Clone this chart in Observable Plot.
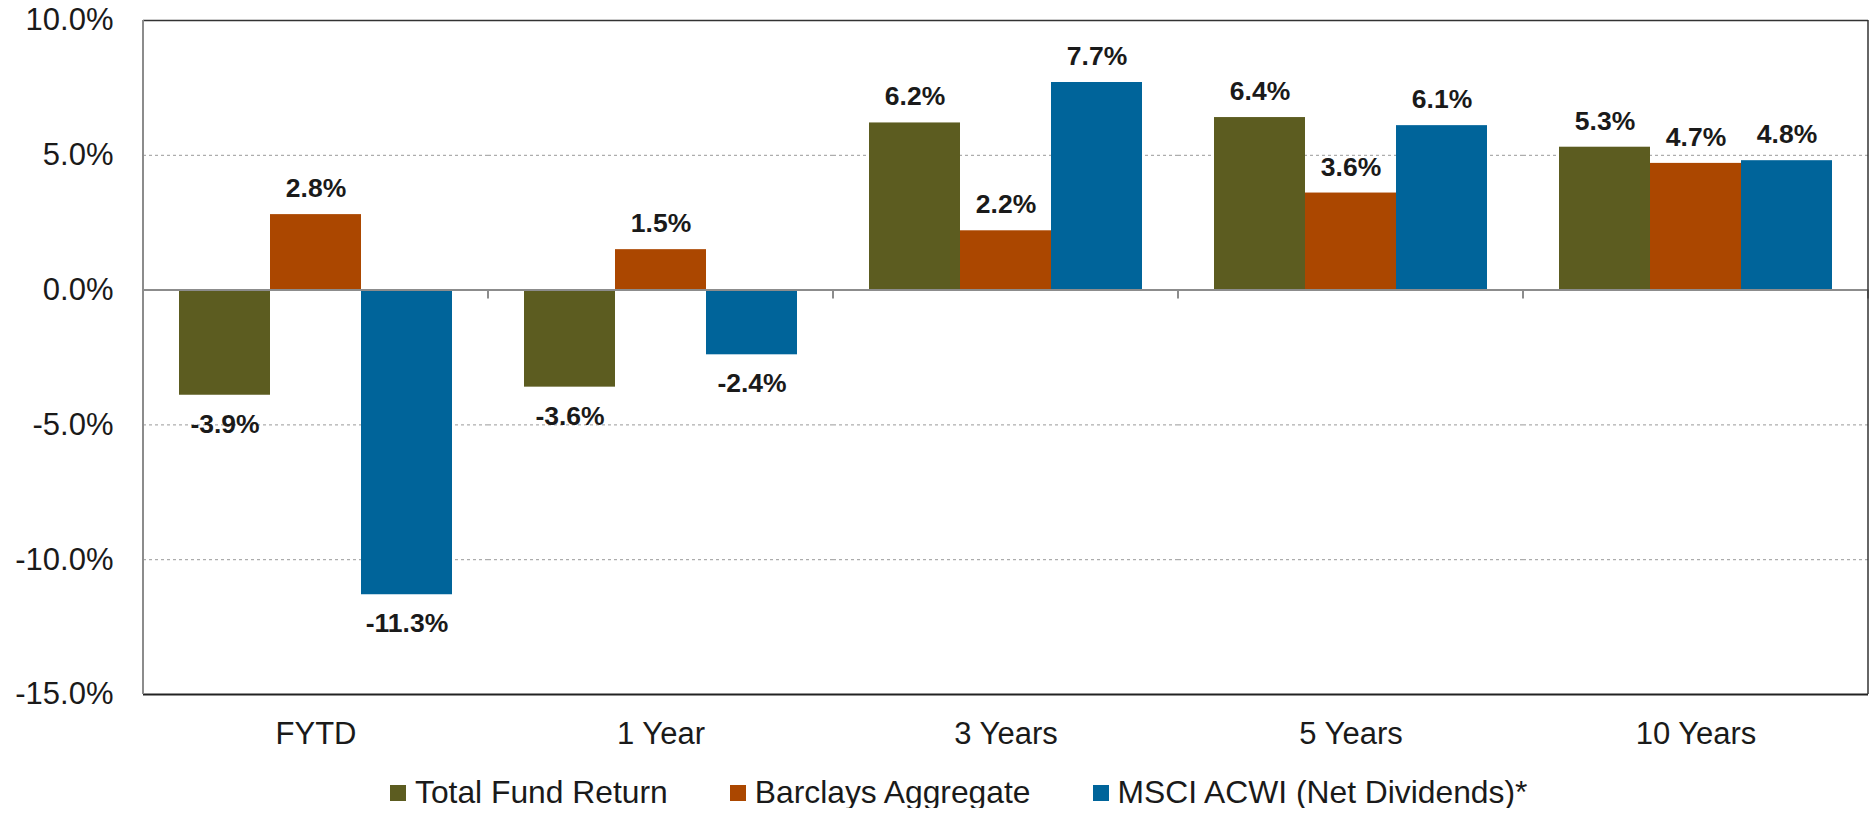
<!DOCTYPE html>
<html><head><meta charset="utf-8">
<script src="https://cdn.jsdelivr.net/npm/d3@7"></script>
<script src="https://cdn.jsdelivr.net/npm/@observablehq/plot@0.6"></script>
<style>
body{margin:0;background:#fff;font-family:"Liberation Sans",Arial,sans-serif;}
#legend{display:flex;align-items:center;padding-left:390px;margin-top:11px;font-size:31.8px;color:#1a1a1a;line-height:31px;}
.item{display:flex;align-items:center;margin-right:62px;}
.sw{width:16px;height:16px;margin-right:9px;}
</style></head><body>
<div id="chart"></div><div id="legend"></div>
<script>
const categories = ["FYTD", "1 Year", "3 Years", "5 Years", "10 Years"];
const seriesNames = ["Total Fund Return", "Barclays Aggregate", "MSCI ACWI (Net Dividends)*"];
const seriesColors = ["#5C5C20", "#AB4700", "#00649A"];
const totalFund = [-3.9, -3.6, 6.2, 6.4, 5.3];
const barclays = [2.8, 1.5, 2.2, 3.6, 4.7];
const msci = [-11.3, -2.4, 7.7, 6.1, 4.8];
const yTicks = [-15, -10, -5, 0, 5, 10];
const gridTicks = [-10, -5, 5];

const seriesValues = [totalFund, barclays, msci];
const rows = categories.flatMap((cat, i) =>
  seriesNames.map((s, j) => ({cat, series: s, value: seriesValues[j][i]})));
const fmt = v => v.toFixed(1) + "%";

const chart = Plot.plot({
  width: 1871,
  height: 766,
  marginTop: 20,
  marginBottom: 72,
  marginLeft: 142,
  marginRight: 3,
  style: {fontFamily: "'Liberation Sans', Arial, sans-serif", color: "#1a1a1a", background: "#fff"},
  fx: {domain: categories, padding: 0, label: null},
  x: {domain: seriesNames, paddingInner: 0, paddingOuter: 0.38, axis: null},
  y: {domain: [-15, 10], label: null},
  color: {domain: seriesNames, range: seriesColors},
  marks: [
    Plot.ruleY(gridTicks, {stroke: "#999", strokeDasharray: "3,3", strokeWidth: 1}),
    Plot.barY(rows, {fx: "cat", x: "series", y: "value", fill: "series"}),
    Plot.ruleY([0], {stroke: "#8c8c8c", strokeWidth: 2}),
    Plot.ruleY([10], {stroke: "#333", strokeWidth: 1.5}),
    Plot.ruleY([-15], {stroke: "#222", strokeWidth: 2}),
    Plot.axisY(yTicks, {anchor: "left", tickSize: 0, tickPadding: 30, tickFormat: fmt, fontSize: 31, fill: "#1a1a1a"}),
    Plot.axisFx({anchor: "bottom", tickSize: 0, tickPadding: 27, fontSize: 31, label: null, fill: "#1a1a1a"}),
    Plot.text(rows.filter(d => d.value >= 0), {fx: "cat", x: "series", y: "value", text: d => fmt(d.value), dy: -26, fontWeight: "bold", fontSize: 26.5, fill: "#1a1a1a"}),
    Plot.text(rows.filter(d => d.value < 0), {fx: "cat", x: "series", y: "value", text: d => fmt(d.value), dy: 29, fontWeight: "bold", fontSize: 26.5, fill: "#1a1a1a"})
  ]
});
document.getElementById("chart").appendChild(chart);

// frame edges and category boundary ticks, positioned from Plot's own scales
const fxS = chart.scale("fx");
const yS = chart.scale("y");
const fxApply = fxS.apply ? fxS.apply : d3.scaleBand(fxS.domain, fxS.range);
const yApply = yS.apply ? yS.apply : d3.scaleLinear(yS.domain, yS.range);
const y0 = yApply(0), yTop = yApply(10), yBot = yApply(-15);
const edges = categories.map(c => fxApply(c)).concat([fxApply(categories[categories.length - 1]) + fxS.bandwidth]);
const g = d3.select(chart).append("g");
g.selectAll("line.tick").data(edges).join("line").attr("class", "tick")
  .attr("x1", d => d).attr("x2", d => d).attr("y1", y0).attr("y2", y0 + 9)
  .attr("stroke", "#8c8c8c").attr("stroke-width", 2);
g.append("line").attr("x1", edges[0]).attr("x2", edges[0]).attr("y1", yTop).attr("y2", yBot)
  .attr("stroke", "#8c8c8c").attr("stroke-width", 2);
const xr = edges[edges.length - 1];
g.append("line").attr("x1", xr).attr("x2", xr).attr("y1", yTop).attr("y2", yBot)
  .attr("stroke", "#333").attr("stroke-width", 1.5);

const legend = d3.select("#legend");
seriesNames.forEach((s, i) => {
  const it = legend.append("div").attr("class", "item");
  it.append("div").attr("class", "sw").style("background", seriesColors[i]);
  it.append("span").text(s);
});
</script>
</body></html>
